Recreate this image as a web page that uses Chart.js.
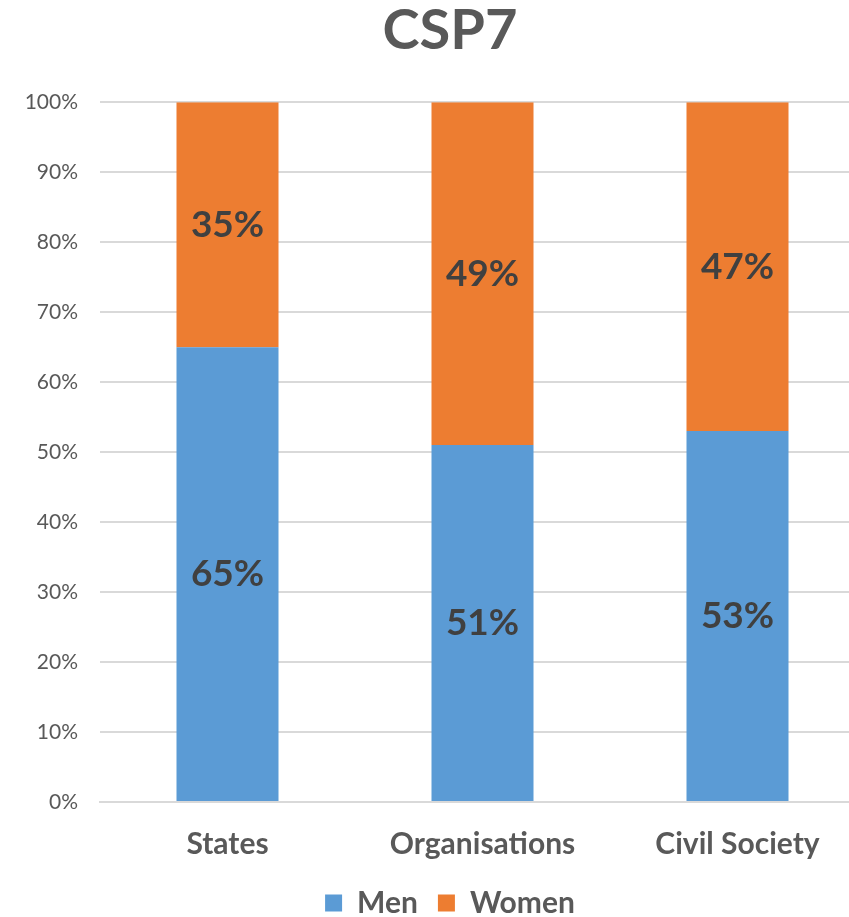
<!DOCTYPE html>
<html>
<head>
<meta charset="utf-8">
<script src="https://cdn.jsdelivr.net/npm/chart.js@4/dist/chart.umd.min.js"></script>
<style>
html,body{margin:0;padding:0;background:#fff;overflow:hidden;}
canvas{display:block;}
</style>
</head>
<body>
<canvas id="c" width="900" height="917"></canvas>
<script>
const categories = ["States", "Organisations", "Civil Society"];
const menValues = [65, 51, 53];
const womenValues = [35, 49, 47];
const seriesNames = ["Men", "Women"];
const yTicks = [0, 10, 20, 30, 40, 50, 60, 70, 80, 90, 100];

const FONT = "Lato, 'Open Sans', sans-serif";
const TEXT = "#595959";

const labelPlugin = {
  id: 'segLabels',
  afterDatasetsDraw(chart) {
    const ctx = chart.ctx;
    ctx.save();
    ctx.font = "bold 37px " + FONT;
    ctx.fillStyle = "#404040";
    ctx.textAlign = "center";
    ctx.textBaseline = "middle";
    chart.data.datasets.forEach((ds, di) => {
      const meta = chart.getDatasetMeta(di);
      meta.data.forEach((el, i) => {
        const y = (el.y + el.base) / 2;
        ctx.fillText(ds.data[i] + "%", el.x, y);
      });
    });
    ctx.restore();
  }
};

new Chart(document.getElementById('c'), {
  type: 'bar',
  data: {
    labels: categories,
    datasets: [
      { label: seriesNames[0], data: menValues, backgroundColor: "#5B9BD5", categoryPercentage: 1, barPercentage: 0.4 },
      { label: seriesNames[1], data: womenValues, backgroundColor: "#ED7D31", categoryPercentage: 1, barPercentage: 0.4 }
    ]
  },
  options: {
    responsive: false,
    animation: false,
    layout: { padding: { top: 0, bottom: -11, left: 0, right: 0 } },
    plugins: {
      title: {
        display: true,
        text: "CSP7",
        color: TEXT,
        font: { family: FONT, size: 56, weight: 'bold', lineHeight: 1.2 },
        padding: { top: -3, bottom: 38 }
      },
      legend: {
        position: 'bottom',
        labels: {
          color: TEXT,
          font: { family: FONT, size: 30, weight: 'bold' },
          boxWidth: 17,
          boxHeight: 17,
          padding: 20
        }
      },
      tooltip: { enabled: false }
    },
    scales: {
      x: {
        stacked: true,
        afterFit(s) { s.height = 66; },
        grid: { display: false, drawTicks: false },
        border: { display: true, color: "#D9D9D9", width: 2 },
        ticks: { color: TEXT, font: { family: FONT, size: 30, weight: 'bold' }, padding: 24 }
      },
      y: {
        stacked: true,
        min: 0,
        max: 100,
        afterFit(s) { s.width = 100; },
        afterBuildTicks(s) { s.ticks = yTicks.map(v => ({ value: v })); },
        grid: { color: "#D9D9D9", lineWidth: 2, drawTicks: false },
        border: { display: false },
        ticks: { color: TEXT, font: { family: FONT, size: 21 }, padding: 22, callback: v => v + "%" }
      },
      yRight: {
        position: 'right',
        display: true,
        afterFit(s) { s.width = 35; },
        grid: { display: false, drawTicks: false },
        border: { display: false },
        ticks: { display: false }
      }
    }
  },
  plugins: [labelPlugin]
});
</script>
</body>
</html>
